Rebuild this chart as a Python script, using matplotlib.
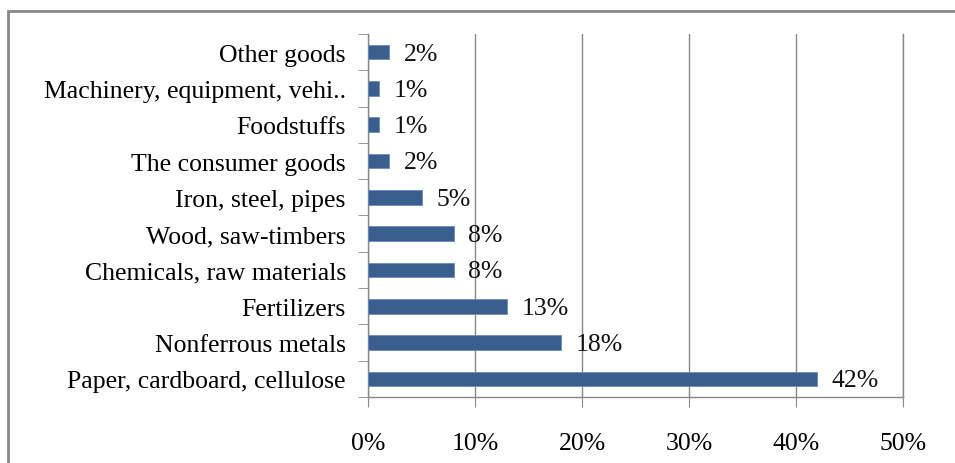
import matplotlib.pyplot as plt
from matplotlib.patches import Rectangle

categories = ["Paper, cardboard, cellulose", "Nonferrous metals", "Fertilizers",
              "Chemicals, raw materials", "Wood, saw-timbers", "Iron, steel, pipes",
              "The consumer goods", "Foodstuffs", "Machinery, equipment, vehi..",
              "Other goods"]
shares = [42, 18, 13, 8, 8, 5, 2, 1, 1, 2]
xticks = [0, 10, 20, 30, 40, 50]

plt.rcParams['font.family'] = ['Liberation Serif', 'DejaVu Serif']

fig = plt.figure(figsize=(9.55, 4.64), dpi=100)
ax = fig.add_axes([368 / 955, 1 - 398 / 464, 535 / 955, 363 / 464])

pos = list(range(len(categories)))
ax.barh(pos, shares, height=0.4, color="#3A5F8E", edgecolor="#6A8DBA", linewidth=0.6, zorder=3)

for y, v in zip(pos, shares):
    ax.annotate(f"{v}%", (v, y), xytext=(10.5, -1), textcoords="offset points",
                va="center", ha="left", fontsize=18.5, color="#111111")

ax.set_xlim(0, 50)
ax.set_ylim(-0.5, len(categories) - 0.5)
ax.set_xticks(xticks)
ax.set_xticklabels([f"{t}%" for t in xticks], fontsize=18.5)
ax.set_yticks(pos)
ax.set_yticklabels(categories, fontsize=18.5)
ax.tick_params(axis="y", length=0, pad=16)
ax.tick_params(axis="x", length=7, color="#888888", pad=18)
ax.set_yticks([p - 0.5 for p in pos] + [len(pos) - 0.5], minor=True)
ax.tick_params(axis="y", which="minor", length=7, color="#888888")

ax.grid(axis="x", color="#888888", linewidth=1, zorder=0)
ax.spines["top"].set_visible(False)
for s in ["left", "bottom", "right"]:
    ax.spines[s].set_color("#888888")
    ax.spines[s].set_linewidth(1)

# chart frame
fig.patches.append(Rectangle((8 / 955, -0.1), 1.2, 1 - 12 / 464 + 0.1,
                             transform=fig.transFigure, fill=False,
                             edgecolor="#888888", linewidth=2))

fig.savefig("out.png", dpi=100)
